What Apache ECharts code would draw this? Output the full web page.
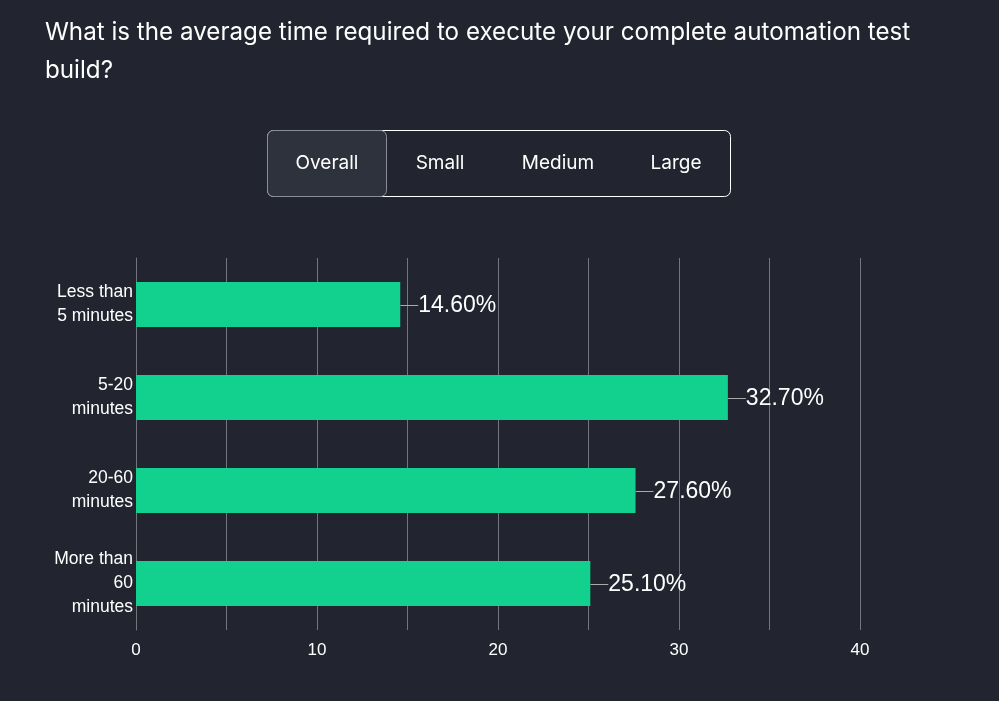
<!DOCTYPE html>
<html><head><meta charset="utf-8">
<script src="https://cdn.jsdelivr.net/npm/echarts@6/dist/echarts.min.js"></script>
<style>html,body{margin:0;padding:0;background:#22252f;}#c{width:999px;height:701px;}</style>
</head><body><div id="c"></div>
<script>
const titleText = 'What is the average time required to execute your complete automation test\nbuild?';
const tabs = ['Overall', 'Small', 'Medium', 'Large'];
const categories = ['Less than\n5 minutes', '5-20\nminutes', '20-60\nminutes', 'More than\n60\nminutes'];
const values = [14.6, 32.7, 27.6, 25.1];
const xTicks = [0, 10, 20, 30, 40];

const chart = echarts.init(document.getElementById('c'));
const tabCenters = [327, 440, 558, 676];
const graphics = [
  {type:'rect', shape:{x:267.5, y:130.5, width:463, height:66, r:6}, style:{fill:'#22252f', stroke:'#ffffff', lineWidth:1}},
  {type:'rect', shape:{x:267.5, y:130.5, width:119, height:66, r:6}, style:{fill:'#2e323c', stroke:'#8a8d94', lineWidth:1}}
];
tabs.forEach((t,i)=>graphics.push({type:'text', x:tabCenters[i], y:163.5, style:{text:t, fill:'#ffffff', font:'19px Inter, sans-serif', textAlign:'center', textVerticalAlign:'middle'}}));

chart.setOption({
  backgroundColor:'#22252f',
  animation:false,
  title:{text:titleText, left:45, top:14, padding:0, textStyle:{color:'#ffffff', fontSize:24.2, fontWeight:'normal', fontFamily:'Inter, sans-serif', lineHeight:38}},
  graphic:graphics,
  grid:{left:136, right:139, top:258, bottom:71},
  xAxis:{type:'value', min:0, max:40, interval:5,
    axisLine:{show:false}, axisTick:{show:false},
    splitLine:{show:true, lineStyle:{color:'#73767d', width:1}},
    axisLabel:{color:'#ffffff', fontSize:17, margin:12, fontFamily:'Liberation Sans, Arial, sans-serif',
      formatter:v=> xTicks.includes(v) ? String(v) : ''}},
  yAxis:{type:'category', data:categories, inverse:true,
    axisLine:{show:true, lineStyle:{color:'#73767d'}}, axisTick:{show:false},
    axisLabel:{color:'#ffffff', fontSize:17.5, lineHeight:24, margin:3, align:'right', fontFamily:'Liberation Sans, Arial, sans-serif'}},
  series:[{type:'bar', data:values, barWidth:45, itemStyle:{color:'#12d18e'},
    label:{show:true, position:'right', distance:0, color:'#ffffff', fontSize:23, fontFamily:'Liberation Sans, Arial, sans-serif',
      formatter:p=>p.value.toFixed(2)+'%'},
    labelLayout:{dx:18, dy:1},
    labelLine:{show:true, lineStyle:{color:'#aaaaaa', width:1}}
  }]
});
</script></body></html>
